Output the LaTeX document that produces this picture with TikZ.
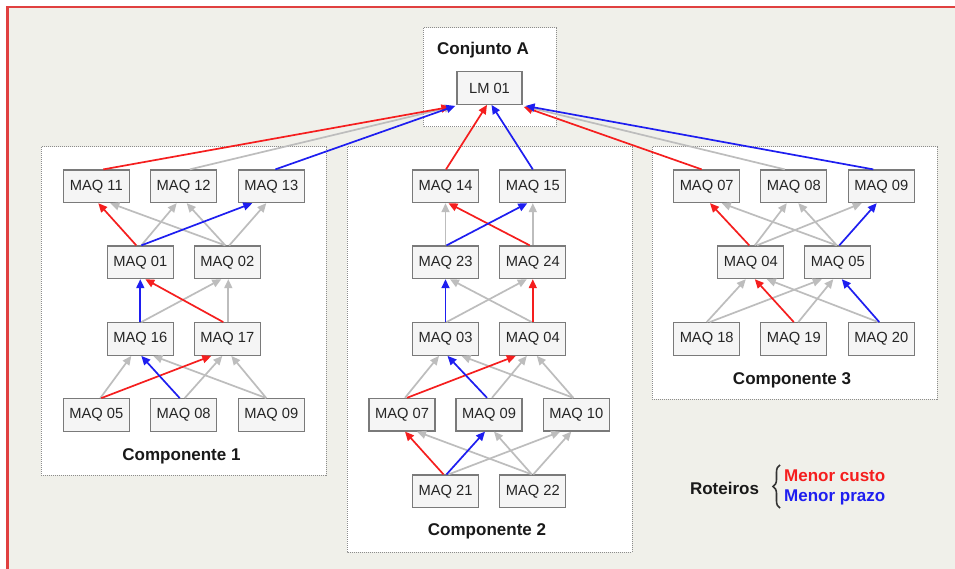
\documentclass[tikz,border=0pt]{standalone}
\usepackage{fontspec}
\setmainfont{Liberation Sans}
\usetikzlibrary{arrows.meta,decorations.pathreplacing}

\definecolor{pagebg}{HTML}{F0F0EA}
\definecolor{framered}{HTML}{E04040}
\definecolor{costred}{HTML}{F51E1E}
\definecolor{timeblue}{HTML}{1E1EF0}
\definecolor{altgrey}{HTML}{BDBDBD}
\definecolor{boxedge}{HTML}{7A7A7A}
\definecolor{boxfill}{HTML}{F5F5F5}
\definecolor{groupedge}{HTML}{8C8C8C}

% connector from the top of one machine to the bottom of another
\newcommand\linkarrow[5]{\draw[#1] ([xshift=#3pt]#2.north) -- ([xshift=#5pt]#4.south);}

\begin{document}
\begin{tikzpicture}[x=1pt,y=-1pt,
  machine/.style={draw=boxedge,fill=boxfill,line width=1.3pt,minimum width=66pt,
    minimum height=32.5pt,inner sep=0pt,font=\fontsize{14.7}{16}\selectfont,text=black!85},
  groupbox/.style={draw=groupedge,fill=white,line width=1pt,dash pattern=on 1pt off 1pt},
  grouplabel/.style={anchor=base,inner sep=0pt,font=\fontsize{17}{19}\selectfont\bfseries,text=black!90},
  route/.style={line width=1.7pt,-{Triangle[length=9pt,width=8pt]}},
  alt/.style={route,altgrey},
  cost/.style={route,costred},
  fast/.style={route,timeblue}]

% page background and frame
\useasboundingbox (0,0) rectangle (955,569);
\fill[white] (0,0) rectangle (955,569);
\fill[pagebg] (8,8) rectangle (955,569);
\draw[framered,line width=2.5pt] (7.5,569) -- (7.5,7) -- (955,7);

% group frames
\draw[groupbox] (423,28) rectangle (556,127);
\draw[groupbox] (41,147) rectangle (326,475);
\draw[groupbox] (347,147) rectangle (632,552);
\draw[groupbox] (652,147) rectangle (937,399);

\node[grouplabel] (lblA) at (483,55) {Conjunto A};
\node[grouplabel] (lbl1) at (181.5,460.5) {Componente 1};
\node[grouplabel] (lbl2) at (487,535) {Componente 2};
\node[grouplabel] (lbl3) at (792,384) {Componente 3};

% assembly
\node[machine,minimum width=65pt] (lm) at (489.5,88) {LM 01};

% component 1
\node[machine] (c1m11) at (96.3,186.3) {MAQ 11};
\node[machine] (c1m12) at (183.7,186.3) {MAQ 12};
\node[machine] (c1m13) at (271.3,186.3) {MAQ 13};
\node[machine] (c1m01) at (140.3,262.3) {MAQ 01};
\node[machine] (c1m02) at (227.3,262.3) {MAQ 02};
\node[machine] (c1m16) at (140.3,339) {MAQ 16};
\node[machine] (c1m17) at (227.3,339) {MAQ 17};
\node[machine] (c1m05) at (96.3,415) {MAQ 05};
\node[machine] (c1m08) at (183.7,415) {MAQ 08};
\node[machine] (c1m09) at (271.3,415) {MAQ 09};

% component 2
\node[machine] (c2m14) at (445.5,186.3) {MAQ 14};
\node[machine] (c2m15) at (532.8,186.3) {MAQ 15};
\node[machine] (c2m23) at (445.5,262.3) {MAQ 23};
\node[machine] (c2m24) at (532.8,262.3) {MAQ 24};
\node[machine] (c2m03) at (445.5,339) {MAQ 03};
\node[machine] (c2m04) at (532.8,339) {MAQ 04};
\node[machine] (c2m07) at (402,414.7) {MAQ 07};
\node[machine] (c2m09) at (489,414.7) {MAQ 09};
\node[machine] (c2m10) at (576.3,414.7) {MAQ 10};
\node[machine] (c2m21) at (445.5,491.3) {MAQ 21};
\node[machine] (c2m22) at (532.8,491.3) {MAQ 22};

% component 3
\node[machine] (c3m07) at (706.7,186.3) {MAQ 07};
\node[machine] (c3m08) at (793.8,186.3) {MAQ 08};
\node[machine] (c3m09) at (881.3,186.3) {MAQ 09};
\node[machine] (c3m04) at (750.8,262.3) {MAQ 04};
\node[machine] (c3m05) at (837.8,262.3) {MAQ 05};
\node[machine] (c3m18) at (706.7,339) {MAQ 18};
\node[machine] (c3m19) at (793.8,339) {MAQ 19};
\node[machine] (c3m20) at (881.3,339) {MAQ 20};

% alternative (grey) routes
\draw[alt] ([xshift=6pt]c1m12.north) -- ([shift={(-3,1.5)}]lm.south west);
\draw[alt] ([xshift=-9pt]c3m08.north) -- ([shift={(2,1.5)}]lm.south east);

\linkarrow{alt}{c1m02}{-2}{c1m11}{14}
\linkarrow{alt}{c1m01}{1}{c1m12}{-7}
\linkarrow{alt}{c1m02}{-2}{c1m12}{3}
\linkarrow{alt}{c1m02}{2}{c1m13}{-5}
\linkarrow{alt}{c1m16}{1}{c1m02}{-6}
\linkarrow{alt}{c1m17}{1}{c1m02}{1}
\linkarrow{alt}{c1m05}{4}{c1m16}{-9}
\linkarrow{alt}{c1m09}{-5}{c1m16}{13}
\linkarrow{alt}{c1m08}{1}{c1m17}{-5}
\linkarrow{alt}{c1m09}{-5}{c1m17}{4}

\linkarrow{alt}{c2m23}{0}{c2m14}{0}
\linkarrow{alt}{c2m24}{0}{c2m15}{0}
\linkarrow{alt}{c2m04}{-1}{c2m23}{4.5}
\linkarrow{alt}{c2m03}{1}{c2m24}{-6}
\linkarrow{alt}{c2m07}{3}{c2m03}{-6.5}
\linkarrow{alt}{c2m10}{-3}{c2m03}{16}
\linkarrow{alt}{c2m09}{3}{c2m04}{-6}
\linkarrow{alt}{c2m10}{-3}{c2m04}{4}
\linkarrow{alt}{c2m22}{-1}{c2m07}{15}
\linkarrow{alt}{c2m22}{-1}{c2m09}{5}
\linkarrow{alt}{c2m21}{3}{c2m10}{-16}
\linkarrow{alt}{c2m22}{0.5}{c2m10}{-5}

\linkarrow{alt}{c3m05}{-1}{c3m07}{15}
\linkarrow{alt}{c3m04}{4}{c3m08}{-7}
\linkarrow{alt}{c3m05}{-1}{c3m08}{4.5}
\linkarrow{alt}{c3m04}{6}{c3m09}{-19.6}
\linkarrow{alt}{c3m18}{0}{c3m04}{-5}
\linkarrow{alt}{c3m20}{-3}{c3m04}{16}
\linkarrow{alt}{c3m18}{3}{c3m05}{-16}
\linkarrow{alt}{c3m19}{4.5}{c3m05}{-4.5}

% lowest-cost routes
\draw[cost] ([xshift=7pt]c1m11.north) -- ([shift={(-6,2)}]lm.south west);
\draw[cost] ([xshift=0.5pt]c2m14.north) -- ([xshift=-2.5pt]lm.south);
\draw[cost] ([xshift=-5pt]c3m07.north) -- ([shift={(1,2)}]lm.south east);
\linkarrow{cost}{c1m01}{-4}{c1m11}{2}
\linkarrow{cost}{c1m17}{-4}{c1m01}{5}
\linkarrow{cost}{c1m05}{5}{c1m17}{-16}
\linkarrow{cost}{c2m24}{-3}{c2m14}{3}
\linkarrow{cost}{c2m04}{0}{c2m24}{0}
\linkarrow{cost}{c2m07}{5}{c2m04}{-17}
\linkarrow{cost}{c2m21}{-2}{c2m07}{3}
\linkarrow{cost}{c3m04}{-1.5}{c3m07}{3.3}
\linkarrow{cost}{c3m19}{0}{c3m04}{4}

% shortest-lead-time routes
\draw[fast] ([xshift=4pt]c1m13.north) -- ([shift={(-1,1)}]lm.south west);
\draw[fast] (c2m15.north) -- ([xshift=2pt]lm.south);
\draw[fast] ([xshift=-8pt]c3m09.north) -- ([shift={(3,1)}]lm.south east);
\linkarrow{fast}{c1m01}{1}{c1m13}{-19}
\linkarrow{fast}{c1m16}{0}{c1m01}{0}
\linkarrow{fast}{c1m08}{-4}{c1m16}{1}
\linkarrow{fast}{c2m23}{1}{c2m15}{-5.5}
\linkarrow{fast}{c2m03}{0}{c2m23}{0}
\linkarrow{fast}{c2m09}{-2}{c2m03}{2}
\linkarrow{fast}{c2m21}{1}{c2m09}{-4}
\linkarrow{fast}{c3m05}{1.5}{c3m09}{-4.6}
\linkarrow{fast}{c3m20}{-2}{c3m05}{4}

% legend
\node[grouplabel] (legend) at (724.5,494) {Roteiros};
\draw[black!80,line width=1.6pt,decorate,decoration={brace,amplitude=7pt}]
  (780,508) -- (780,465);
\node[grouplabel,anchor=base west,text=costred] (legcost) at (784,481) {Menor custo};
\node[grouplabel,anchor=base west,text=timeblue] (legtime) at (784,501) {Menor prazo};
\end{tikzpicture}
\end{document}
